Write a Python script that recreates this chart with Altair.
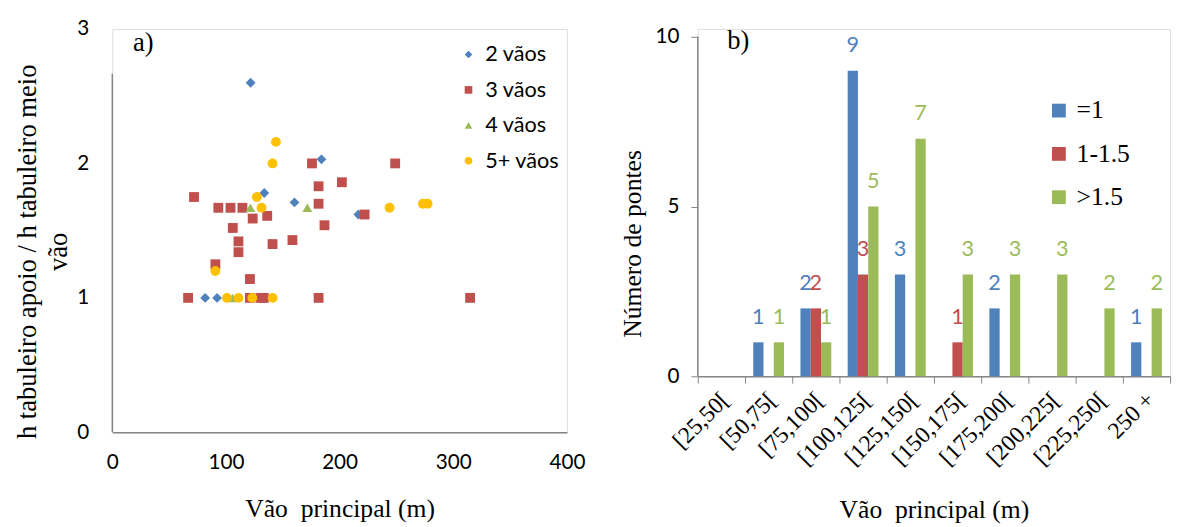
import altair as alt
import pandas as pd

# ---------- data: scatter (a) ----------
s2_x = [121.7, 184, 133.7, 160.3, 216.5, 81.7, 92.2]
s2_y = [2.60, 2.03, 1.78, 1.71, 1.62, 1.0, 1.0]
s3_x = [175.7, 202, 181.5, 71.9, 181.5, 93.3, 104, 114.5, 123.5, 136.3, 186.7, 106, 111,
        141, 158.5, 111, 90.7, 121.1, 248.9, 222, 66.7, 121.1, 130.4, 133.3, 181.5, 314.8]
s3_y = [2.00, 1.86, 1.83, 1.75, 1.70, 1.67, 1.67, 1.67, 1.59, 1.61, 1.54, 1.52, 1.42,
        1.40, 1.43, 1.34, 1.25, 1.14, 2.00, 1.62, 1.0, 1.0, 1.0, 1.0, 1.0, 1.0]
s4_x = [121.5, 171.6, 105.8]
s4_y = [1.67, 1.67, 1.0]
s5_x = [144, 141, 127.2, 131.3, 90.7, 244, 273.3, 277.4, 100.9, 111, 123.2, 141.1]
s5_y = [2.16, 2.00, 1.75, 1.67, 1.20, 1.67, 1.70, 1.70, 1.0, 1.0, 1.0, 1.0]
series_names = ["2 vãos", "3 vãos", "4 vãos", "5+ vãos"]

# ---------- data: bars (b) ----------
cats = ["[25,50[", "[50,75[", "[75,100[", "[100,125[", "[125,150[", "[150,175[",
        "[175,200[", "[200,225[", "[225,250[", "250 +"]
v_eq1 = [0, 1, 2, 9, 3, 0, 2, 0, 0, 1]
v_mid = [0, 0, 2, 3, 0, 1, 0, 0, 0, 0]
v_gt = [0, 1, 1, 5, 7, 3, 3, 3, 2, 2]
bar_series = ["=1", "1-1.5", ">1.5"]

BLUE, RED, GREEN, YELLOW = "#4F81BD", "#C0504D", "#9BBB59", "#FFC000"
AXC = "#868686"
SERIF = "Liberation Serif"
SANS = "Lato"

rows = []
for name, xs, ys in zip(series_names, [s2_x, s3_x, s4_x, s5_x], [s2_y, s3_y, s4_y, s5_y]):
    for a, b in zip(xs, ys):
        rows.append({"vao": a, "ratio": b, "serie": name})
df_a = pd.DataFrame(rows)
df_a["ord"] = range(len(df_a))

rows_b = []
for name, vals in zip(bar_series, [v_eq1, v_mid, v_gt]):
    for c, v in zip(cats, vals):
        rows_b.append({"cat": c, "n": v, "serie": name})
df_b = pd.DataFrame(rows_b)

one = pd.DataFrame({"k": [0]})  # single row for decorations

# ---------- chart a ----------
xa = alt.X("vao:Q", scale=alt.Scale(domain=[0, 400], nice=False),
           axis=alt.Axis(values=[0, 100, 200, 300, 400], format="d", ticks=False, grid=False,
                         domainColor=AXC, domainWidth=1.5, labelFont=SANS, labelFontSize=21,
                         labelColor="black", labelPadding=20, labelFlush=False,
                         title="Vão\u00a0 principal (m)", titleFont=SERIF, titleFontSize=26,
                         titleFontWeight="normal", titleColor="black", titlePadding=24))
ya = alt.Y("ratio:Q", scale=alt.Scale(domain=[0, 3], nice=False),
           axis=alt.Axis(values=[0, 1, 2, 3], format="d", ticks=False, grid=False, domain=False,
                         labelFont=SANS, labelFontSize=21, labelColor="black", labelPadding=24,
                         labelFlush=False,
                         title=["h tabuleiro apoio / h tabuleiro meio", "vão"],
                         titleFont=SERIF, titleFontSize=27, titleFontWeight="normal",
                         titleColor="black", titleLineHeight=32, titlePadding=4, titleY=226))

pts = alt.Chart(df_a).mark_point(filled=True, opacity=1).encode(
    x=xa, y=ya,
    color=alt.Color("serie:N", scale=alt.Scale(domain=series_names,
                                               range=[BLUE, RED, GREEN, YELLOW]),
                    legend=alt.Legend(title=None, orient="none", legendX=351, legendY=15,
                                      labelFont=SANS, labelFontSize=22, labelColor="black",
                                      symbolSize=60, rowPadding=14, labelOffset=6)),
    shape=alt.Shape("serie:N", scale=alt.Scale(domain=series_names,
                                               range=["diamond", "square", "triangle-up", "circle"])),
    size=alt.value(100),
    order=alt.Order("ord:Q"),
)
axis_a = alt.Chart(one).mark_rule(color=AXC, strokeWidth=1.5).encode(
    x=alt.value(0), y=alt.datum(0), y2=alt.datum(2.667))
lab_a = alt.Chart(one).mark_text(font=SERIF, fontSize=27, fontWeight="normal",
                                 align="left", baseline="middle").encode(
    x=alt.value(21), y=alt.value(14), text=alt.value("a)"))
chart_a = alt.layer(axis_a, pts, lab_a).properties(width=462, height=410)

# ---------- chart b ----------
xb = alt.X("cat:N", sort=cats, scale=alt.Scale(paddingInner=0, paddingOuter=0),
           axis=alt.Axis(labelAngle=-45, labelAlign="right", labelBaseline="middle",
                         tickBand="extent", tickSize=7, tickColor=AXC, domainColor=AXC,
                         domainWidth=1.5, labelFont=SERIF, labelFontSize=24, labelColor="black",
                         labelPadding=13, labelOffset=4,
                         title="Vão\u00a0 principal (m)", titleFont=SERIF, titleFontSize=26,
                         titleFontWeight="normal", titleColor="black", titlePadding=28))
yb = alt.Y("n:Q", scale=alt.Scale(domain=[0, 10.232], nice=False),
           axis=alt.Axis(values=[0, 5, 10], format="d", grid=False, domain=False, tickSize=7,
                         tickColor=AXC,
                         labelFont=SANS, labelFontSize=21, labelColor="black", labelPadding=12,
                         title="Número de pontes", titleFont=SERIF, titleFontSize=26,
                         titleFontWeight="normal", titleColor="black", titlePadding=10, titleY=218))
xo = alt.XOffset("serie:N", sort=bar_series, scale=alt.Scale(paddingOuter=0.8, paddingInner=0))
cb = alt.Color("serie:N", scale=alt.Scale(domain=bar_series, range=[BLUE, RED, GREEN]),
               legend=alt.Legend(title=None, orient="none", legendX=354, legendY=70,
                                 labelFont=SERIF, labelFontSize=26, labelColor="black",
                                 symbolType="square", symbolSize=196, symbolStrokeWidth=0,
                                 rowPadding=18, labelOffset=5))
bars = alt.Chart(df_b).mark_bar().encode(x=xb, xOffset=xo, y=yb, color=cb)
txt = alt.Chart(df_b).transform_filter("datum.n > 0").mark_text(
    font=SANS, fontSize=22, baseline="middle", dy=-26).encode(
    x=xb, xOffset=xo, y=yb, text="n:Q",
    color=alt.Color("serie:N", scale=alt.Scale(domain=bar_series, range=[BLUE, RED, GREEN]),
                    legend=None))
axis_b = alt.Chart(one).mark_rule(color=AXC, strokeWidth=1.5).encode(
    x=alt.value(0), y=alt.datum(0), y2=alt.datum(10))
lab_b = alt.Chart(one).mark_text(font=SERIF, fontSize=27, fontWeight="normal",
                                 align="left", baseline="middle").encode(
    x=alt.value(30), y=alt.value(12), text=alt.value("b)"))
chart_b = alt.layer(axis_b, bars, txt, lab_b).properties(width=480, height=353)

chart = alt.hconcat(chart_a, chart_b, spacing=133, bounds="flush").resolve_scale(
    color="independent", shape="independent", x="independent", y="independent"
).configure_view(stroke=None).configure(background="white")

chart.save("out.html", embed_options={"renderer": "svg", "actions": False})
